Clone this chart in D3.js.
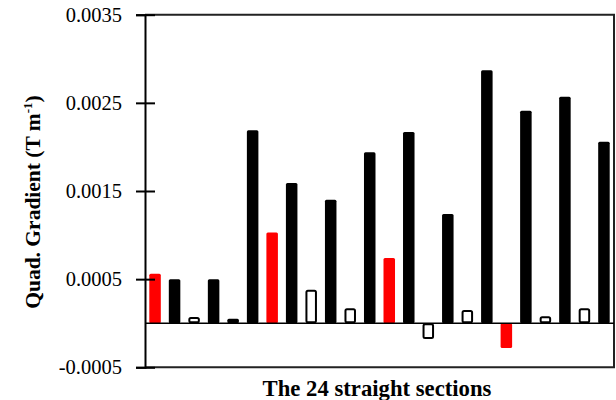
<!DOCTYPE html>
<html>
<head>
<meta charset="utf-8">
<script src="https://cdn.jsdelivr.net/npm/d3@7"></script>
<style>
  body { margin: 0; background: #fff; }
  text { font-family: 'Liberation Serif', 'Times New Roman', serif; fill: #000; }
</style>
</head>
<body>
<div id="chart"></div>
<script>
var W = 616;
var H = 400;

// 24 straight sections, quad gradient in T/m
var sections = d3.range(1, 25);
var gradients = [0.00056, 0.00050, 0.00007, 0.00050, 0.00005, 0.00219, 0.00103, 0.00159,
                 0.00038, 0.00140, 0.00017, 0.00194, 0.00074, 0.00217, -0.00018, 0.00124,
                 0.00015, 0.00287, -0.00028, 0.00241, 0.00008, 0.00257, 0.00017, 0.00206];
// bar style: s = solid black, r = red, h = hollow
var kinds = ['r', 's', 'h', 's', 's', 's', 'r', 's', 'h', 's', 'h', 's',
             'r', 's', 'h', 's', 'h', 's', 'r', 's', 'h', 's', 'h', 's'];
var tickValues = [-0.0005, 0.0005, 0.0015, 0.0025, 0.0035];
var tickLabels = ['-0.0005', '0.0005', '0.0015', '0.0025', '0.0035'];

var plotL = 145, plotR = 614, plotT = 14.7, plotB = 367.3;

var svg = d3.select('#chart').append('svg').attr('width', W).attr('height', H);

var xScale = d3.scaleBand()
  .domain(sections)
  .range([plotL, plotR])
  .paddingInner(0.41)
  .paddingOuter(0.22);

var yScale = d3.scaleLinear()
  .domain([-0.0005, 0.0035])
  .range([plotB, plotT]);

// plot frame (top, right, bottom)
svg.append('path')
  .attr('d', 'M' + plotL + ',' + plotT + 'H' + plotR + 'V' + plotB + 'H' + plotL)
  .attr('fill', 'none')
  .attr('stroke', '#222')
  .attr('stroke-width', 2);

// bars
var data = sections.map(function (s, i) { return { s: s, v: gradients[i], k: kinds[i] }; });

svg.selectAll('rect.bar')
  .data(data)
  .enter()
  .append('rect')
  .attr('class', 'bar')
  .attr('x', function (d) { return d.k === 'h' ? xScale(d.s) + 1 : xScale(d.s); })
  .attr('width', function (d) { return d.k === 'h' ? xScale.bandwidth() - 2 : xScale.bandwidth(); })
  .attr('y', function (d) {
    var y = Math.min(yScale(d.v), yScale(0));
    return d.k === 'h' ? y + 1 : y;
  })
  .attr('height', function (d) {
    var h = Math.abs(yScale(d.v) - yScale(0));
    return d.k === 'h' ? Math.max(h - 2, 1) : h;
  })
  .attr('rx', 1.5)
  .attr('fill', function (d) {
    if (d.k === 'r') return '#ff0000';
    if (d.k === 'h') return '#fff';
    return '#000';
  })
  .attr('stroke', function (d) { return d.k === 'h' ? '#000' : 'none'; })
  .attr('stroke-width', 2);

// zero line
svg.append('line')
  .attr('x1', plotL).attr('x2', plotR)
  .attr('y1', yScale(0)).attr('y2', yScale(0))
  .attr('stroke', '#000')
  .attr('stroke-width', 1.5);

// y axis
var yAxis = d3.axisLeft(yScale)
  .tickValues(tickValues)
  .tickFormat(function (d, i) { return tickLabels[i]; })
  .tickSize(9)
  .tickPadding(14);

var gy = svg.append('g')
  .attr('transform', 'translate(' + plotL + ',0)')
  .call(yAxis)
  .attr('font-family', 'Liberation Serif')
  .attr('font-size', 20.5);

gy.select('.domain').attr('stroke', '#000').attr('stroke-width', 2);
gy.selectAll('.tick line').attr('x1', 10).attr('stroke', '#000').attr('stroke-width', 2);
gy.selectAll('.tick text').attr('fill', '#000');

// axis titles
svg.append('text')
  .attr('x', 377)
  .attr('y', 396)
  .attr('text-anchor', 'middle')
  .style('font-size', '22.7px')
  .style('font-weight', 'bold')
  .text('The 24 straight sections');

var yTitle = svg.append('text')
  .attr('transform', 'translate(40,202) rotate(-90)')
  .attr('text-anchor', 'middle')
  .style('font-size', '21.5px')
  .style('font-weight', 'bold');
yTitle.append('tspan').text('Quad. Gradient (T m');
yTitle.append('tspan').attr('dy', -8).style('font-size', '13px').text('-1');
yTitle.append('tspan').attr('dy', 8).text(')');
</script>
</body>
</html>
